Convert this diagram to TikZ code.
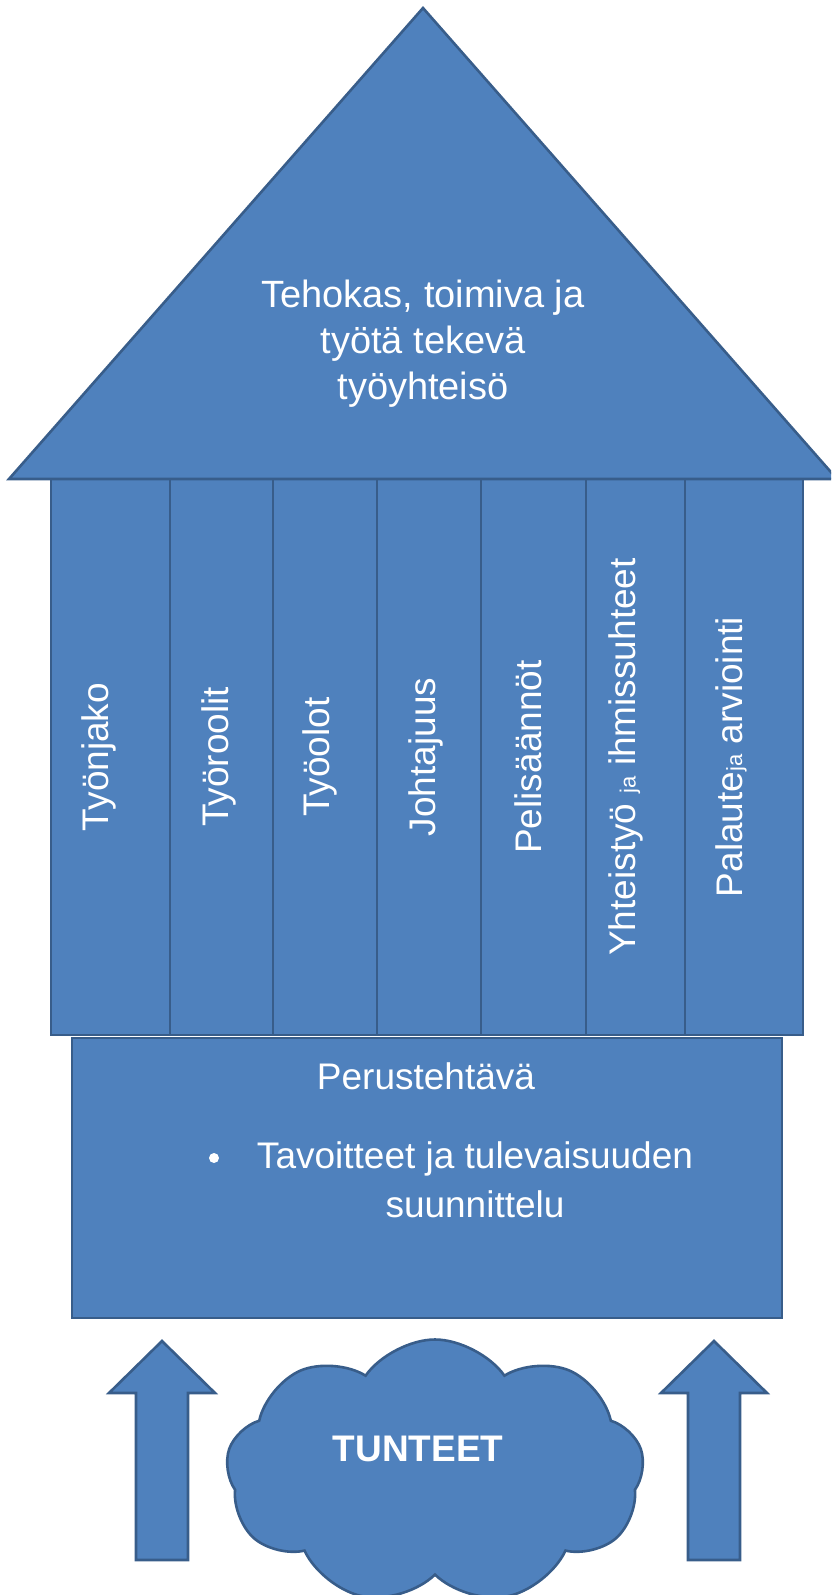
\documentclass[tikz,border=0pt]{standalone}
\usepackage{fontspec}
\setmainfont{Liberation Sans}
\usetikzlibrary{shapes.symbols}
\definecolor{houseblue}{RGB}{79,129,189}
\definecolor{houseline}{RGB}{56,93,138}

\begin{document}
\begin{tikzpicture}[x=1pt, y=-1pt, line width=2.6pt,
    part/.style={fill=houseblue, draw=houseline},
    label/.style={text=white, align=center, font=\fontsize{37}{49}\selectfont},
    pillarlabel/.style={label, rotate=90, inner sep=0pt}]
    \useasboundingbox (0,0) rectangle (831,1595);
    \clip (0,0) rectangle (831,1595);

    % pillars
    \foreach \xa/\xb in {51/170, 170/273, 273/377, 377/481, 481/586, 586/685, 685/803}
        \filldraw[part] (\xa,479) rectangle (\xb,1035);
    \foreach \x/\txt [count=\i] in {99/Työnjako, 219/Työroolit, 320/Työolot, 426/Johtajuus, 528/Pelisäännöt}
        \node[pillarlabel] (pillar\i) at (\x,757) {\txt};
    \node[pillarlabel] (pillar6) at (626,757) {Yhteistyö {\fontsize{22}{26}\selectfont ja} ihmissuhteet};
    \node[pillarlabel] (pillar7) at (731,757) {Palaute{\fontsize{22}{26}\selectfont ja} arviointi};

    % roof
    \filldraw[part] (423,8) -- (837,479) -- (9,479) -- cycle;
    \node[label, font=\fontsize{38}{46}\selectfont] (goal) at (423,344) {Tehokas, toimiva ja\\työtä tekevä\\työyhteisö};

    % base
    \filldraw[part] (72,1038) rectangle (782,1318);
    \node[label] (task) at (426,1076) {Perustehtävä};
    \fill[white] (214,1158) circle (5);
    \node[label] (aims) at (475,1180) {Tavoitteet ja tulevaisuuden\\suunnittelu};

    % arrows and cloud
    \filldraw[part] (136,1560) -- (136,1393) -- (109,1393) -- (162,1341) -- (215,1393) -- (188,1393) -- (188,1560) -- cycle;
    \filldraw[part] (688,1560) -- (688,1393) -- (661,1393) -- (714,1341) -- (767,1393) -- (740,1393) -- (740,1560) -- cycle;
    \node[part, cloud, cloud puffs=9, cloud puff arc=110, aspect=1.5, minimum width=418pt, minimum height=265pt] (cloud) at (435,1472) {};
    \node[label, font=\fontsize{37}{44}\selectfont\bfseries] (feelings) at (418,1449) {TUNTEET};
\end{tikzpicture}
\end{document}
